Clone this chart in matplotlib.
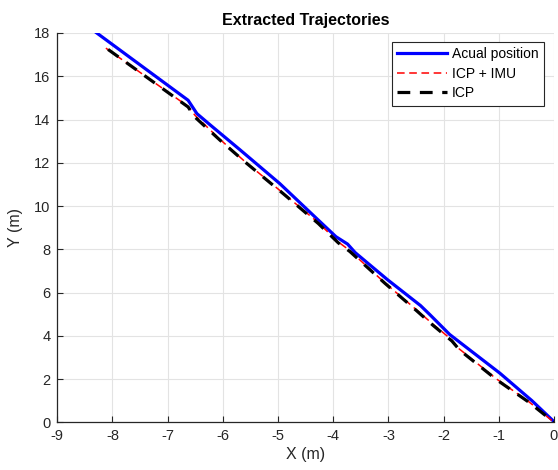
import matplotlib
matplotlib.use("Agg")
import matplotlib.pyplot as plt

plt.rcParams['font.family'] = ['Liberation Sans', 'DejaVu Sans']
plt.rcParams['axes.unicode_minus'] = False

# trajectory data
actual_x = [-8.29, -6.63, -6.47, -6.23, -5.69, -4.97, -4.30, -3.95, -3.74, -3.60,
            -3.02, -2.42, -2.25, -1.89, -1.58, -0.98, -0.40, 0.00]
actual_y = [18.01, 14.89, 14.27, 13.75, 12.60, 11.04, 9.42, 8.58, 8.24, 7.84,
            6.60, 5.40, 4.98, 4.06, 3.45, 2.27, 1.00, 0.03]

imu_x = [-8.12, -6.64, -6.50, -6.06, -5.62, -4.93, -4.28, -3.92, -3.71, -3.08,
         -2.50, -2.20, -1.86, -1.72, -1.05, -0.46, 0.00]
imu_y = [17.30, 14.62, 14.18, 13.10, 12.10, 10.64, 9.25, 8.36, 7.96, 6.48,
         5.22, 4.55, 3.83, 3.40, 2.02, 0.96, 0.00]

icp_x = [-8.08, -6.63, -6.51, -6.05, -5.60, -4.91, -4.27, -3.91, -3.70, -3.06,
         -2.49, -2.19, -1.85, -1.71, -1.04, -0.45, 0.00]
icp_y = [17.24, 14.58, 14.12, 13.04, 12.04, 10.58, 9.19, 8.30, 7.90, 6.42,
         5.16, 4.48, 3.76, 3.34, 1.97, 0.92, 0.00]

x_ticks = list(range(-9, 1))
y_ticks = list(range(0, 19, 2))

fig = plt.figure(figsize=(5.58, 4.70), dpi=100)
ax = fig.add_axes([0.1027, 0.1015, 0.8901, 0.8283])

ax.plot(actual_x, actual_y, color='#0000ff', lw=2.3, label='Acual position')
ax.plot(imu_x, imu_y, color='#ff0000', lw=1.1, ls=(0, (5, 3)), label='ICP + IMU')
ax.plot(icp_x, icp_y, color='black', lw=2.3, ls=(0, (4, 3)), label='ICP')

ax.set_xlim(-9, 0)
ax.set_ylim(0, 18)
ax.set_xticks(x_ticks)
ax.set_yticks(y_ticks)
ax.grid(True, color='#e3e3e3', lw=0.8)
ax.set_axisbelow(True)

for side in ['top', 'right']:
    ax.spines[side].set_visible(False)
for side in ['left', 'bottom']:
    ax.spines[side].set_color('#262626')
    ax.spines[side].set_linewidth(0.9)
ax.tick_params(direction='in', length=4, width=0.8, colors='#262626',
               labelsize=10.5, pad=5)

ax.set_title('Extracted Trajectories', fontsize=11.5, fontweight='bold', pad=6)
ax.set_xlabel('X (m)', fontsize=11.5, color='#262626', labelpad=3)
ax.set_ylabel('Y (m)', fontsize=11.5, color='#262626', labelpad=8)

leg = ax.legend(loc='upper right', bbox_to_anchor=(0.985, 0.985), fontsize=10,
                fancybox=False, framealpha=1, edgecolor='#262626',
                handlelength=3.6, borderpad=0.4, labelspacing=0.4,
                handletextpad=0.3, borderaxespad=0.2)
leg.get_frame().set_linewidth(0.8)

fig.savefig('out.png', dpi=100)
